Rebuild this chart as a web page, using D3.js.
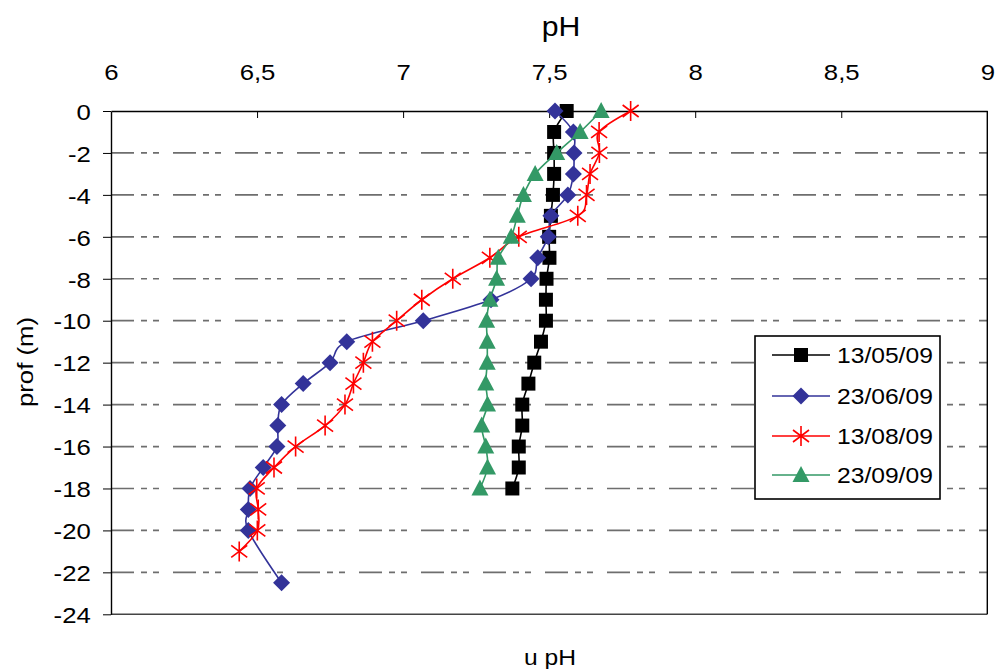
<!DOCTYPE html>
<html>
<head>
<meta charset="utf-8">
<script src="https://cdn.jsdelivr.net/npm/d3@7"></script>
<style>
  body { margin: 0; background: #fff; }
  svg { font-family: "Liberation Sans", Arial, sans-serif; }
</style>
</head>
<body>
<div id="chart"></div>
<script>
// depths (m) and pH per campaign
var depth0to18 = d3.range(0, -19, -1);
var depth0to20 = d3.range(0, -21, -1);
var depth0to21 = d3.range(0, -22, -1);

var ph130509 = [7.56, 7.517, 7.517, 7.517, 7.513, 7.506, 7.50, 7.501, 7.491, 7.489,
                7.489, 7.472, 7.449, 7.429, 7.408, 7.408, 7.396, 7.396, 7.374];
var ph230609 = [7.52, 7.583, 7.585, 7.583, 7.564, 7.506, 7.497, 7.461, 7.438, 7.301,
                7.069, 6.807, 6.75, 6.658, 6.584, 6.571, 6.568, 6.521, 6.476, 6.47,
                6.47, 6.584];
var depth230609 = depth0to20.concat([-22.5]);
var ph130809 = [7.779, 7.671, 7.672, 7.64, 7.628, 7.598, 7.396, 7.297, 7.17, 7.064,
                6.978, 6.895, 6.864, 6.83, 6.801, 6.733, 6.632, 6.558, 6.499, 6.504,
                6.501, 6.439];
var ph230909 = [7.678, 7.606, 7.526, 7.452, 7.412, 7.391, 7.37, 7.326, 7.32, 7.297,
                7.286, 7.288, 7.288, 7.283, 7.289, 7.269, 7.283, 7.289, 7.263];

var seriesNames = ["13/05/09", "23/06/09", "13/08/09", "23/09/09"];
var seriesColors = ["#000000", "#333399", "#ff0000", "#339966"];
var seriesMarkers = ["square", "diamond", "star", "triangle"];

var xTicks = [6, 6.5, 7, 7.5, 8, 8.5, 9];
var yTicks = d3.range(0, -25, -2);

var series = [
    { depth: depth0to18, ph: ph130509 },
    { depth: depth230609, ph: ph230609 },
    { depth: depth0to21, ph: ph130809 },
    { depth: depth0to18, ph: ph230909 }
].map(function (s, i) {
    return {
        name: seriesNames[i], color: seriesColors[i], marker: seriesMarkers[i],
        points: s.depth.map(function (d, j) { return { d: d, v: s.ph[j] }; })
    };
});

var W = 996, H = 669;
var plot = { left: 111, top: 111, right: 987.3, bottom: 614.3 };
var textStretch = "scale(1.12,1)";

var x = d3.scaleLinear().domain([6, 9]).range([plot.left, plot.right]);
var y = d3.scaleLinear().domain([0, -24]).range([plot.top, plot.bottom]);

var svg = d3.select("#chart").append("svg")
    .attr("width", W)
    .attr("height", H);

// dashed grid lines
svg.append("g")
    .selectAll("line")
    .data(yTicks.filter(function (d) { return d < 0 && d > -24; }))
    .enter().append("line")
    .attr("x1", plot.left).attr("x2", plot.right)
    .attr("y1", function (d) { return y(d); })
    .attr("y2", function (d) { return y(d); })
    .attr("stroke", "#6e6e6e")
    .attr("stroke-width", 1.7)
    .attr("stroke-dasharray", "23,7,6,6,6,14");

// plot frame
svg.append("line").attr("x1", plot.left).attr("x2", plot.right)
    .attr("y1", plot.bottom).attr("y2", plot.bottom)
    .attr("stroke", "#444").attr("stroke-width", 1.6);
svg.append("line").attr("x1", plot.right).attr("x2", plot.right)
    .attr("y1", plot.top).attr("y2", plot.bottom)
    .attr("stroke", "#000").attr("stroke-width", 1.4);

var fmt = function (d) { return String(d).replace(".", ","); };

var xAxis = svg.append("g")
    .attr("transform", "translate(0," + plot.top + ")")
    .call(d3.axisTop(x).tickValues(xTicks).tickFormat(fmt)
        .tickSizeInner(-7).tickSizeOuter(0).tickPadding(31));
var yAxis = svg.append("g")
    .attr("transform", "translate(" + plot.left + ",0)")
    .call(d3.axisLeft(y).tickValues(yTicks).tickFormat(function (d) { return String(d); })
        .tickSizeInner(8).tickSizeOuter(0).tickPadding(10));

[xAxis, yAxis].forEach(function (a) {
    a.select(".domain").attr("stroke", "#000").attr("stroke-width", 1.4);
    a.selectAll(".tick line").attr("stroke", "#000").attr("stroke-width", 1);
    a.selectAll(".tick text")
        .attr("fill", "#000")
        .style("font-size", "23px")
        .attr("transform", textStretch);
});
yAxis.selectAll(".tick text").attr("dy", "0.36em");
xAxis.selectAll(".tick line").filter(function (d) { return d === 6 || d === 9; }).remove();

// axis titles
svg.append("text")
    .attr("transform", "translate(561,36) " + textStretch)
    .attr("text-anchor", "middle")
    .style("font-size", "27px")
    .text("pH");
svg.append("text")
    .attr("transform", "translate(550,665) " + textStretch)
    .attr("text-anchor", "middle")
    .style("font-size", "22px")
    .text("u pH");
svg.append("text")
    .attr("transform", "translate(33,362) rotate(-90) scale(1.12,1)")
    .attr("text-anchor", "middle")
    .style("font-size", "23px")
    .text("prof (m)");

// marker shapes
function markerPath(type) {
    if (type === "square") return "M-7,-7H7V7H-7Z";
    if (type === "diamond") return "M0,-8.5L8.5,0L0,8.5L-8.5,0Z";
    if (type === "triangle") return "M0,-9L8.5,7L-8.5,7Z";
    return "M0,-10V10M-8,-6L8,6M-8,6L8,-6";
}

function drawMarker(sel, s) {
    sel.attr("d", markerPath(s.marker))
        .attr("fill", s.marker === "star" ? "none" : s.color)
        .attr("stroke", s.color)
        .attr("stroke-width", s.marker === "star" ? 1.6 : 0);
}

var line = d3.line()
    .x(function (p) { return x(p.v); })
    .y(function (p) { return y(p.d); })
    .curve(d3.curveCatmullRom.alpha(0));

series.forEach(function (s) {
    var g = svg.append("g").attr("class", "series");
    g.append("path")
        .datum(s.points)
        .attr("d", line)
        .attr("fill", "none")
        .attr("stroke", s.color)
        .attr("stroke-width", 1.6);
    g.selectAll("path.mark")
        .data(s.points)
        .enter().append("path")
        .attr("class", "mark")
        .attr("transform", function (p) { return "translate(" + x(p.v) + "," + y(p.d) + ")"; })
        .call(drawMarker, s);
});

// legend
var legend = svg.append("g").attr("transform", "translate(755,336)");
legend.append("rect")
    .attr("width", 185).attr("height", 163)
    .attr("fill", "#fff")
    .attr("stroke", "#000").attr("stroke-width", 1.6);

var rowY = [19, 60, 100, 139];
var item = legend.selectAll("g.item")
    .data(series)
    .enter().append("g")
    .attr("class", "item")
    .attr("transform", function (s, i) { return "translate(0," + rowY[i] + ")"; });
item.append("line")
    .attr("x1", 17).attr("x2", 75)
    .attr("stroke", function (s) { return s.color; })
    .attr("stroke-width", 1.6);
item.append("path")
    .attr("transform", "translate(46,0)")
    .each(function (s) { d3.select(this).call(drawMarker, s); });
item.append("text")
    .attr("transform", "translate(82,0) " + textStretch)
    .attr("dy", "0.36em")
    .style("font-size", "22px")
    .text(function (s) { return s.name; });
</script>
</body>
</html>
